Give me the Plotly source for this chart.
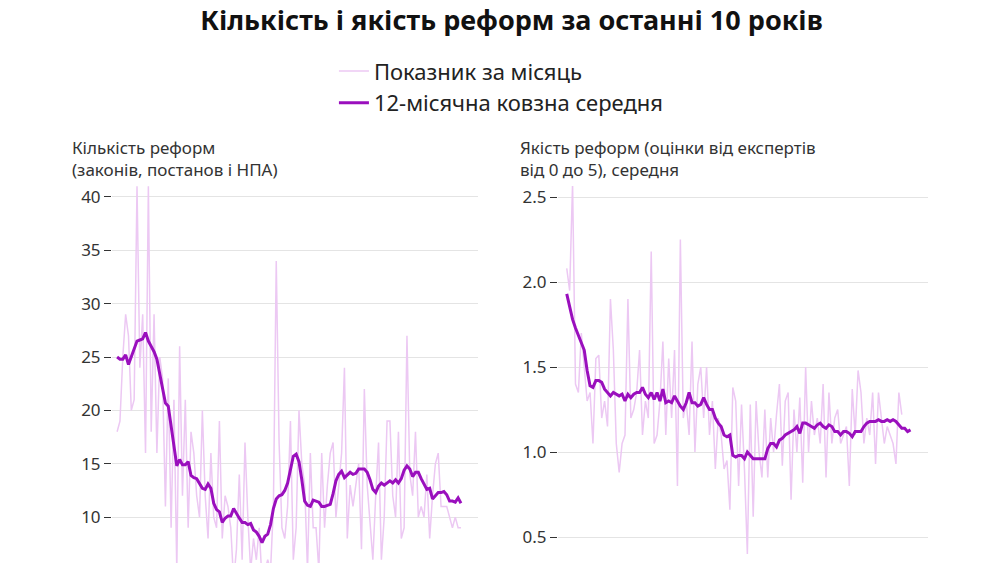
from plotly import graph_objects as go
from plotly.subplots import make_subplots

"""-Data-"""
# Left: number of reforms, monthly and 12-month moving average
count_month = [18, 19, 25, 29, 27, 20, 21, 41, 24, 29, 16, 41, 18, 29, 16, 25, 23, 11, 23, 9,
               21, 5, 26, 12, 21, 9, 18, 16, 12, 10, 20, 12, 8, 16, 10, 9, 19, 8, 12, 11,
               9, 4, 7, 14, 6, 17, 10, 5, 8, 6, 9, 4, 5, 6, 5, 11, 34, 17, 9, 8,
               11, 19, 6, 9, 20, 15, 13, 5, 16, 9, 9, 5, 16, 9, 13, 16, 17, 10, 13, 16,
               24, 8, 13, 11, 13, 15, 7, 22, 13, 9, 6, 12, 17, 6, 10, 19, 19, 12, 10, 18,
               8, 9, 27, 14, 12, 18, 10, 11, 10, 14, 8, 12, 15, 16, 11, 11, 11, 10, 9, 10, 9, 9]
count_ma = [25, 24.8, 24.8, 25.2, 24.3, 25, 25.8, 26.5, 26.6, 26.7, 27.3, 26.5,
            26, 25.5, 24.8, 23.5, 22.3, 20.7, 20.4, 18.5, 16.5, 14.8, 15.4, 14.9,
            14.9, 15.2, 13.9, 13.7, 13.6, 13.1, 12.7, 12.6, 13.1, 12.7, 11.3, 10.7,
            10.5, 9.5, 9.9, 10.1, 10.1, 10.8, 10.3, 9.9, 9.5, 9.5, 9.3, 9.4,
            8.8, 8.6, 8.2, 7.6, 8.2, 8.4, 9.3, 10.8, 11.7, 12.0, 12.1, 12.5,
            13.2, 14.3, 15.7, 15.9, 15.2, 13.5, 11.5, 11.1, 11.0, 11.6, 11.5, 11.4,
            11.0, 11.0, 11.1, 11.2, 12.2, 13.4, 14.0, 14.3, 13.7, 14.0, 14.2, 14.0,
            14.1, 14.5, 14.5, 14.5, 14.2, 13.5, 12.6, 12.3, 12.9, 13.2, 13.0, 13.2,
            13.4, 13.2, 13.5, 13.2, 13.6, 14.4, 14.8, 14.5, 13.8, 14.2, 14.2, 13.6,
            13.1, 12.6, 12.7, 11.7, 12.0, 12.3, 12.3, 12.4, 12.1, 11.5, 11.5, 11.4, 11.8, 11.3]

# Right: expert quality score, monthly and 12-month moving average
quality_month = [2.08, 1.95, 2.58, 1.40, 1.35, 1.70, 1.50, 1.30, 1.35, 1.05, 1.55, 1.57, 1.20, 1.30, 1.15,
                 1.90, 1.60, 1.05, 0.88, 1.05, 1.10, 1.90, 1.20, 1.25, 1.35, 1.60, 1.10, 1.30, 1.20, 2.18,
                 1.05, 1.10, 1.30, 1.65, 1.10, 1.55, 1.20, 1.60, 0.80, 2.25, 1.20, 1.30, 1.10, 1.65, 1.00,
                 1.40, 1.50, 1.20, 1.50, 1.10, 1.30, 0.90, 1.20, 1.10, 0.90, 0.95, 0.66, 1.38, 1.30, 0.80,
                 1.28, 0.90, 0.40, 1.28, 0.62, 1.30, 1.00, 0.85, 1.25, 0.85, 1.20, 1.00, 1.22, 1.40, 0.92,
                 1.30, 1.35, 0.72, 1.25, 1.00, 1.32, 0.82, 1.50, 1.00, 1.30, 1.10, 1.20, 1.05, 1.40, 0.85,
                 1.35, 1.05, 1.20, 1.25, 1.05, 1.10, 1.15, 0.80, 1.37, 1.10, 1.48, 1.35, 1.05, 1.20, 1.10,
                 1.35, 0.93, 1.35, 1.20, 1.05, 1.15, 1.10, 1.05, 0.93, 1.35, 1.22]
quality_ma = [1.93, 1.85, 1.78, 1.73, 1.69, 1.65, 1.60, 1.48, 1.39, 1.38, 1.42, 1.42,
              1.41, 1.37, 1.35, 1.33, 1.35, 1.34, 1.33, 1.34, 1.30, 1.34, 1.32, 1.34,
              1.35, 1.35, 1.38, 1.34, 1.32, 1.35, 1.31, 1.35, 1.30, 1.37, 1.29, 1.30,
              1.29, 1.33, 1.30, 1.27, 1.25, 1.29, 1.35, 1.29, 1.29, 1.27, 1.28, 1.32,
              1.28, 1.25, 1.25, 1.20, 1.17, 1.15, 1.10, 1.09, 1.10, 0.98, 0.97, 0.98,
              0.98, 0.96, 1.00, 0.98, 0.96, 0.96, 0.96, 0.96, 0.96, 1.02, 1.05, 1.05,
              1.03, 1.07, 1.08, 1.10, 1.11, 1.12, 1.13, 1.15, 1.11, 1.17, 1.17, 1.16,
              1.15, 1.14, 1.16, 1.17, 1.15, 1.14, 1.16, 1.15, 1.12, 1.12, 1.10, 1.12,
              1.12, 1.11, 1.09, 1.12, 1.12, 1.12, 1.15, 1.17, 1.18, 1.18, 1.18, 1.19,
              1.18, 1.18, 1.19, 1.18, 1.19, 1.18, 1.16, 1.14, 1.14, 1.12, 1.13]

LIGHT = "#ecc8f3"
DARK = "#9a0fbd"
FONT = "Noto Sans"

fig = make_subplots(rows=1, cols=2)

fig.add_trace(go.Scatter(x=list(range(len(count_month))), y=count_month, mode="lines",
                         line=dict(color=LIGHT, width=1.5), name="Показник за місяць"), 1, 1)
fig.add_trace(go.Scatter(x=list(range(len(count_ma))), y=count_ma, mode="lines",
                         line=dict(color=DARK, width=3), name="12-місячна ковзна середня"), 1, 1)
fig.add_trace(go.Scatter(x=list(range(len(quality_month))), y=quality_month, mode="lines",
                         line=dict(color=LIGHT, width=1.5), showlegend=False), 1, 2)
fig.add_trace(go.Scatter(x=list(range(len(quality_ma))), y=quality_ma, mode="lines",
                         line=dict(color=DARK, width=3), showlegend=False), 1, 2)

# page is shown with ~8px body margin, so everything is shifted up/left
top = 1 - 178 / 563
fig.update_layout(
    width=1007, height=563,
    margin=dict(l=0, r=0, t=0, b=0),
    plot_bgcolor="white", paper_bgcolor="white",
    font=dict(family=FONT, color="#222", size=14),
    title=dict(text="<b>Кількість і якість реформ за останні 10 років</b>",
               x=0.5, xanchor="center", y=0.995, yanchor="top",
               font=dict(size=27, color="#111", family=FONT)),
    legend=dict(x=0.49, xanchor="center", y=0.925, yanchor="top",
                font=dict(size=22, color="#222"), orientation="v", tracegroupgap=0),
    xaxis=dict(domain=[104 / 1007, 470 / 1007], range=[-1.8, 127], visible=False),
    xaxis2=dict(domain=[550 / 1007, 920 / 1007], range=[-3, 124], visible=False),
    yaxis=dict(domain=[0, top], range=[4.95, 41.03], tickvals=[5, 10, 15, 20, 25, 30, 35, 40]),
    yaxis2=dict(domain=[0, top], range=[0.30, 2.565], tickvals=[0.5, 1.0, 1.5, 2.0, 2.5],
                tickformat=".1f"),
)
fig.update_yaxes(showgrid=True, gridcolor="#e4e4e4", zeroline=False, showline=False,
                 ticks="outside", ticklen=7, tickcolor="#333", tickfont=dict(size=17, color="#333"))

fig.add_annotation(text="Кількість реформ<br>(законів, постанов і НПА)", xref="paper", yref="paper",
                   x=62 / 1007, y=1 - 126 / 563, xanchor="left", yanchor="top", align="left",
                   showarrow=False, font=dict(size=17, color="#333"))
fig.add_annotation(text="Якість реформ (оцінки від експертів<br>від 0 до 5), середня", xref="paper",
                   yref="paper", x=510 / 1007, y=1 - 126 / 563, xanchor="left", yanchor="top",
                   align="left", showarrow=False, font=dict(size=17, color="#333"))

fig.write_html("out.html")
